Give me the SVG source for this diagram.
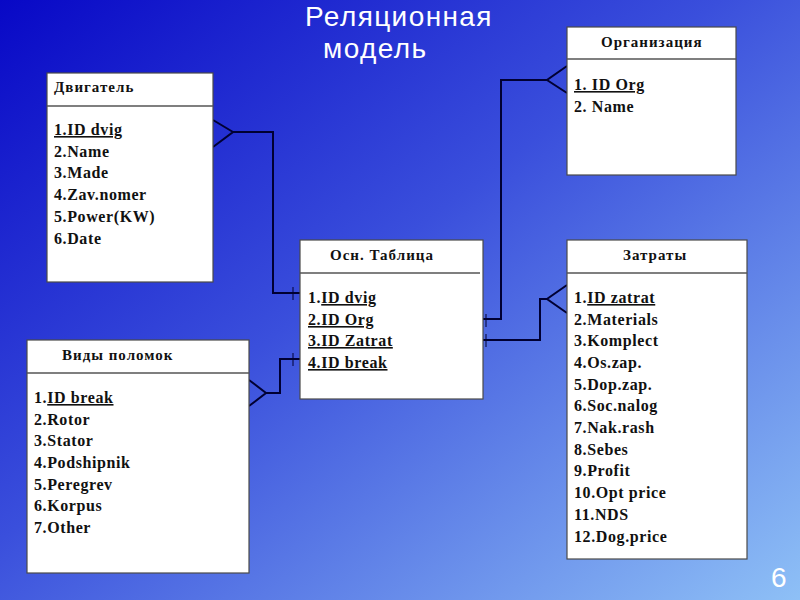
<svg xmlns="http://www.w3.org/2000/svg" width="800" height="600" viewBox="0 0 800 600">
<defs>
<linearGradient id="bg" x1="0" y1="0" x2="1" y2="1">
<stop offset="0" stop-color="#0808c6"/>
<stop offset="0.45" stop-color="#3a4fdc"/>
<stop offset="1" stop-color="#8ec0f6"/>
</linearGradient>
</defs>
<style>
.box{fill:#ffffff;stroke:#4a4a4a;stroke-width:1.2}
.hdr{stroke:#555555;stroke-width:1.5}
.ttl{font-family:"Liberation Serif","Times New Roman",serif;font-weight:bold;font-size:15px;fill:#111;letter-spacing:1px}
.fld{font-family:"Liberation Serif","Times New Roman",serif;font-weight:bold;font-size:16px;fill:#111;letter-spacing:0.6px}
.u{text-decoration:underline}
.con{fill:none;stroke:#000033;stroke-width:2}
.tick{fill:none;stroke:#000033;stroke-width:1}
.big{font-family:"Liberation Sans",Arial,sans-serif;fill:#ffffff}
</style>
<rect width="800" height="600" fill="url(#bg)"/>
<text class="big" x="305" y="26" font-size="28" letter-spacing="1.4">Реляционная</text>
<text class="big" x="323" y="58" font-size="28" letter-spacing="1.4">модель</text>
<text class="big" x="771" y="587" font-size="28">6</text>

<g id="connectors">
<path class="con" d="M213,120 L233,132 L213,147 M233,132 H273 V293 H300"/>
<path class="tick" d="M293,287 V300"/>
<path class="con" d="M483,319 H501 V80 H547 M567,66 L547,80 L567,93"/>
<path class="tick" d="M486,314 V327"/>
<path class="con" d="M483,340 H540 V299 H547 M567,285 L547,299 L567,313"/>
<path class="tick" d="M486,334 V347"/>
<path class="con" d="M249,380 L266,393 L249,406 M266,393 H280 V359 H300"/>
<path class="tick" d="M293,353 V366"/>
</g>

<g id="dvigatel">
<rect class="box" x="47" y="73" width="166" height="209"/>
<line class="hdr" x1="47" y1="106" x2="213" y2="106"/>
<text class="ttl" x="54" y="92">Двигатель</text>
<text class="fld" x="54" y="135"><tspan class="u">1.ID dvig</tspan></text>
<text class="fld" x="54" y="157">2.Name</text>
<text class="fld" x="54" y="178">3.Made</text>
<text class="fld" x="54" y="200">4.Zav.nomer</text>
<text class="fld" x="54" y="222">5.Power(KW)</text>
<text class="fld" x="54" y="244">6.Date</text>
</g>

<g id="organizacia">
<rect class="box" x="567" y="27" width="169" height="148"/>
<line class="hdr" x1="567" y1="59" x2="736" y2="59"/>
<text class="ttl" x="601" y="47">Организация</text>
<text class="fld" x="574" y="90"><tspan class="u">1. ID Org</tspan></text>
<text class="fld" x="574" y="112">2. Name</text>
</g>

<g id="osn">
<rect class="box" x="300" y="240" width="183" height="159"/>
<line class="hdr" x1="300" y1="273" x2="480" y2="273"/>
<text class="ttl" x="330" y="260">Осн. Таблица</text>
<text class="fld" x="308" y="303">1.<tspan class="u">ID dvig</tspan></text>
<text class="fld" x="308" y="325"><tspan class="u">2.ID Org</tspan></text>
<text class="fld" x="308" y="346"><tspan class="u">3.ID Zatrat</tspan></text>
<text class="fld" x="308" y="368"><tspan class="u">4.ID break</tspan></text>
</g>

<g id="vidy">
<rect class="box" x="27" y="340" width="222" height="233"/>
<line class="hdr" x1="27" y1="373" x2="249" y2="373"/>
<text class="ttl" x="62" y="360">Виды поломок</text>
<text class="fld" x="34" y="403">1.<tspan class="u">ID break</tspan></text>
<text class="fld" x="34" y="425">2.Rotor</text>
<text class="fld" x="34" y="446">3.Stator</text>
<text class="fld" x="34" y="468">4.Podshipnik</text>
<text class="fld" x="34" y="490">5.Peregrev</text>
<text class="fld" x="34" y="511">6.Korpus</text>
<text class="fld" x="34" y="533">7.Other</text>
</g>

<g id="zatraty">
<rect class="box" x="567" y="240" width="180" height="319"/>
<line class="hdr" x1="567" y1="273" x2="747" y2="273"/>
<text class="ttl" x="623" y="260">Затраты</text>
<text class="fld" x="574" y="303">1.<tspan class="u">ID zatrat</tspan></text>
<text class="fld" x="574" y="325">2.Materials</text>
<text class="fld" x="574" y="346">3.Komplect</text>
<text class="fld" x="574" y="368">4.Os.zap.</text>
<text class="fld" x="574" y="390">5.Dop.zap.</text>
<text class="fld" x="574" y="411">6.Soc.nalog</text>
<text class="fld" x="574" y="433">7.Nak.rash</text>
<text class="fld" x="574" y="455">8.Sebes</text>
<text class="fld" x="574" y="476">9.Profit</text>
<text class="fld" x="574" y="498">10.Opt price</text>
<text class="fld" x="574" y="520">11.NDS</text>
<text class="fld" x="574" y="542">12.Dog.price</text>
</g>
</svg>
